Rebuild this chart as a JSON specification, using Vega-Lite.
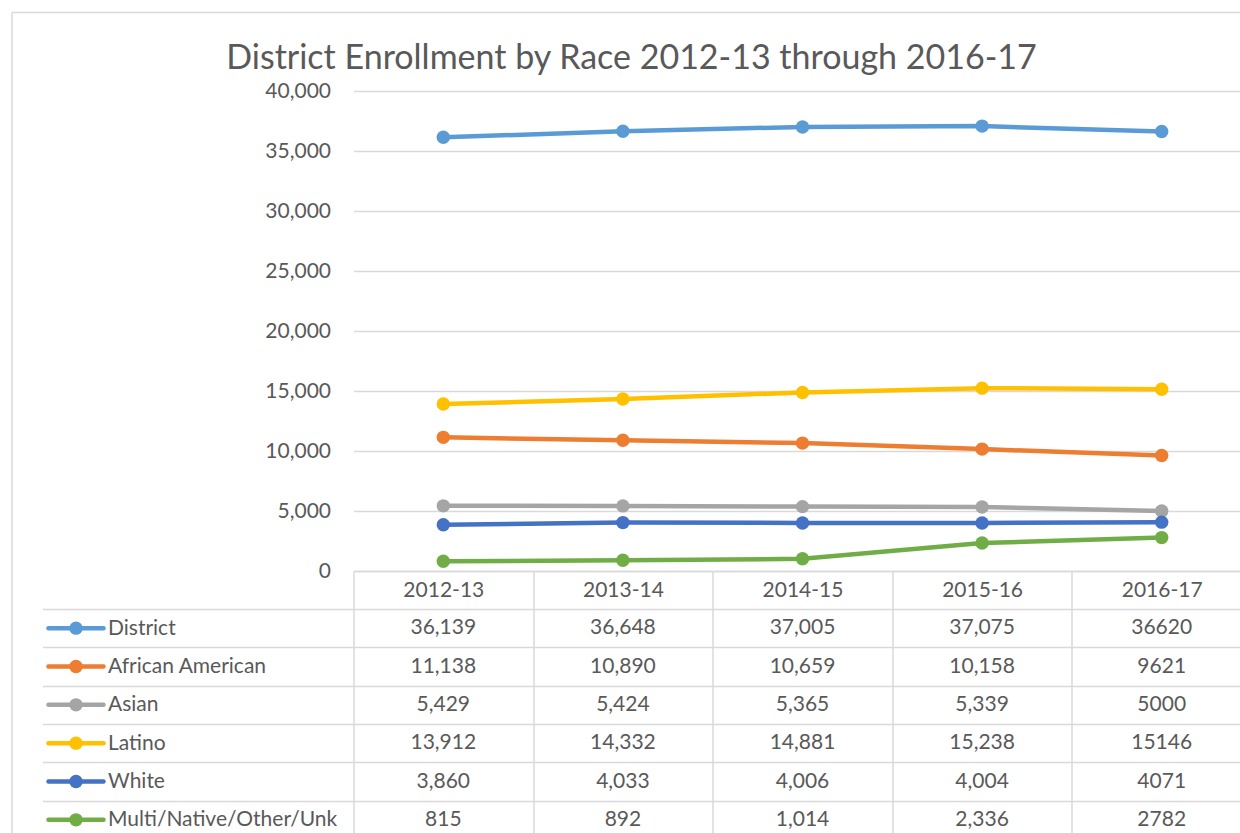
{
  "$schema": "https://vega.github.io/schema/vega-lite/v6.json",
  "background": "white",
  "padding": {"left": 8.5, "top": 9, "right": 0, "bottom": 0},
  "config": {
    "view": {"stroke": null},
    "font": "Lato",
    "axis": {"labelFont": "Lato", "labelColor": "#595959", "labelFontSize": 21, "gridColor": "#d9d9d9", "gridWidth": 1.5, "tickColor": "#d9d9d9", "tickWidth": 1.5, "domainColor": "#d9d9d9", "domainWidth": 1.5, "title": null}
  },
  "datasets": {
    "enroll": [
      {"series": "District", "year": "2012-13", "value": 36139},
      {"series": "District", "year": "2013-14", "value": 36648},
      {"series": "District", "year": "2014-15", "value": 37005},
      {"series": "District", "year": "2015-16", "value": 37075},
      {"series": "District", "year": "2016-17", "value": 36620},
      {"series": "African American", "year": "2012-13", "value": 11138},
      {"series": "African American", "year": "2013-14", "value": 10890},
      {"series": "African American", "year": "2014-15", "value": 10659},
      {"series": "African American", "year": "2015-16", "value": 10158},
      {"series": "African American", "year": "2016-17", "value": 9621},
      {"series": "Asian", "year": "2012-13", "value": 5429},
      {"series": "Asian", "year": "2013-14", "value": 5424},
      {"series": "Asian", "year": "2014-15", "value": 5365},
      {"series": "Asian", "year": "2015-16", "value": 5339},
      {"series": "Asian", "year": "2016-17", "value": 5000},
      {"series": "Latino", "year": "2012-13", "value": 13912},
      {"series": "Latino", "year": "2013-14", "value": 14332},
      {"series": "Latino", "year": "2014-15", "value": 14881},
      {"series": "Latino", "year": "2015-16", "value": 15238},
      {"series": "Latino", "year": "2016-17", "value": 15146},
      {"series": "White", "year": "2012-13", "value": 3860},
      {"series": "White", "year": "2013-14", "value": 4033},
      {"series": "White", "year": "2014-15", "value": 4006},
      {"series": "White", "year": "2015-16", "value": 4004},
      {"series": "White", "year": "2016-17", "value": 4071},
      {"series": "Multi/Native/Other/Unk", "year": "2012-13", "value": 815},
      {"series": "Multi/Native/Other/Unk", "year": "2013-14", "value": 892},
      {"series": "Multi/Native/Other/Unk", "year": "2014-15", "value": 1014},
      {"series": "Multi/Native/Other/Unk", "year": "2015-16", "value": 2336},
      {"series": "Multi/Native/Other/Unk", "year": "2016-17", "value": 2782}
    ]
  },
  "data": {"name": "enroll"},
  "bounds": "flush",
  "spacing": 38,
  "vconcat": [
    {
      "width": 898,
      "height": 480,
      "title": {"text": "District Enrollment by Race 2012-13 through 2016-17", "fontSize": 34, "font": "Lato", "fontWeight": "normal", "color": "#595959", "anchor": "middle", "frame": "group", "dx": -171, "offset": -67},
      "layer": [
        {
          "mark": {"type": "line", "strokeWidth": 4.5, "point": {"filled": true, "size": 180, "opacity": 1}},
          "encoding": {
            "x": {"field": "year", "type": "ordinal", "sort": null, "scale": {"type": "band", "paddingInner": 0, "paddingOuter": 0},
                  "axis": {"tickBand": "extent", "tickSize": 38, "labelPadding": -19, "labelBaseline": "middle", "labelAngle": 0, "domain": true, "grid": false}},
            "y": {"field": "value", "type": "quantitative", "scale": {"domain": [0, 40000]},
                  "axis": {"values": [0, 5000, 10000, 15000, 20000, 25000, 30000, 35000, 40000], "format": ",.0f", "domain": false, "ticks": false, "labelPadding": 23, "grid": true}},
            "color": {"field": "series", "type": "nominal", "sort": null, "legend": null,
                      "scale": {"domain": ["District", "African American", "Asian", "Latino", "White", "Multi/Native/Other/Unk"], "range": ["#5B9BD5", "#ED7D31", "#A5A5A5", "#FFC000", "#4472C4", "#70AD47"]}}
          }
        },
        {
          "transform": [{"filter": "datum.year === '2012-13' && datum.series === 'District'"}],
          "mark": {"type": "point", "opacity": 0},
          "encoding": {
            "x": {"datum": 0, "type": "quantitative", "scale": {"domain": [0, 1], "range": [-342, 898]},
                  "axis": {"orient": "top", "offset": 79, "domain": true, "labels": false, "ticks": false, "grid": false}},
            "y": {"datum": 0, "type": "quantitative", "scale": {"domain": [0, 1], "range": [-79, 760]},
                  "axis": {"orient": "left", "offset": 342, "domain": true, "labels": false, "ticks": false, "grid": false}}
          }
        }
      ],
      "resolve": {"scale": {"x": "independent", "y": "independent"}, "axis": {"x": "independent", "y": "independent"}}
    },
    {
      "width": 898,
      "height": 230,
      "layer": [
        {
          "encoding": {
            "x": {"field": "year", "type": "ordinal", "sort": null, "scale": {"type": "band", "paddingInner": 0, "paddingOuter": 0},
                  "axis": {"tickBand": "extent", "grid": true, "labels": false, "ticks": false, "domain": false}},
            "y": {"field": "series", "type": "nominal", "sort": ["District", "African American", "Asian", "Latino", "White", "Multi/Native/Other/Unk"], "scale": {"type": "band", "paddingInner": 0, "paddingOuter": 0},
                  "axis": {"tickBand": "extent", "grid": true, "ticks": true, "tickSize": 311, "domain": false, "labelAlign": "left", "labelPadding": -65, "labelLimit": 0}}
          },
          "layer": [
            {"transform": [{"filter": "datum.year !== '2016-17'"}],
             "mark": {"type": "text", "fontSize": 21, "color": "#595959", "font": "Lato"},
             "encoding": {"text": {"field": "value", "type": "quantitative", "format": ","}}},
            {"transform": [{"filter": "datum.year === '2016-17'"}],
             "mark": {"type": "text", "fontSize": 21, "color": "#595959", "font": "Lato"},
             "encoding": {"text": {"field": "value", "type": "quantitative", "format": "d"}}}
          ]
        },
        {
          "transform": [{"filter": "datum.year === '2012-13'"}],
          "encoding": {
            "y": {"field": "series", "type": "nominal", "sort": ["District", "African American", "Asian", "Latino", "White", "Multi/Native/Other/Unk"], "scale": {"type": "band", "paddingInner": 0, "paddingOuter": 0},
                  "axis": {"offset": 311, "domain": true, "labels": false, "ticks": false, "grid": false}},
            "color": {"field": "series", "type": "nominal", "sort": null, "legend": null,
                      "scale": {"domain": ["District", "African American", "Asian", "Latino", "White", "Multi/Native/Other/Unk"], "range": ["#5B9BD5", "#ED7D31", "#A5A5A5", "#FFC000", "#4472C4", "#70AD47"]}}
          },
          "layer": [
            {"mark": {"type": "rule", "strokeWidth": 4.5, "strokeCap": "round"},
             "encoding": {"x": {"datum": 0, "type": "quantitative", "scale": {"domain": [0, 1], "range": [-305, -250]}, "axis": null}, "x2": {"datum": 1}}},
            {"mark": {"type": "point", "filled": true, "size": 180, "opacity": 1},
             "encoding": {"x": {"datum": 0.5, "type": "quantitative", "scale": {"domain": [0, 1], "range": [-305, -250]}, "axis": null}}}
          ]
        }
      ],
      "resolve": {"scale": {"x": "independent"}, "axis": {"x": "independent", "y": "independent"}}
    }
  ]
}
